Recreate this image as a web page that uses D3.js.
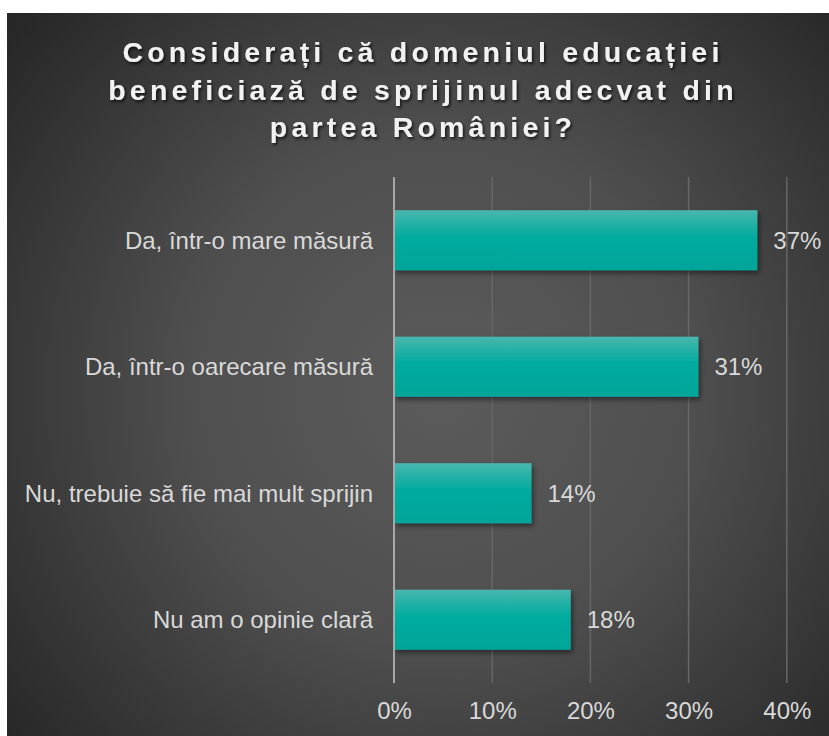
<!DOCTYPE html>
<html>
<head>
<meta charset="utf-8">
<script src="https://cdnjs.cloudflare.com/ajax/libs/d3/7.8.5/d3.min.js"></script>
<style>
  html, body { margin: 0; padding: 0; background: #fff; }
  svg { display: block; }
</style>
</head>
<body>
<div id="chart"></div>
<script>
// data
var categories = [
    "Da, într-o mare măsură",
    "Da, într-o oarecare măsură",
    "Nu, trebuie să fie mai mult sprijin",
    "Nu am o opinie clară"
];
var values = [37, 31, 14, 18];
var xTicks = [0, 10, 20, 30, 40];
var titleLines = [
    "Considerați că domeniul educației",
    "beneficiază de sprijinul adecvat din",
    "partea României?"
];

function init() {
    var svgWidth = 829;
    var svgHeight = 736;

    // plot area
    var margin = { top: 177, right: 42, bottom: 53, left: 394 };
    var chartWidth = svgWidth - margin.left - margin.right;
    var chartHeight = svgHeight - margin.top - margin.bottom;

    var svg = d3.select("#chart")
        .append("svg")
        .attr("width", svgWidth)
        .attr("height", svgHeight);

    var defs = svg.append("defs");

    var bg = defs.append("radialGradient")
        .attr("id", "bgGrad")
        .attr("gradientUnits", "userSpaceOnUse")
        .attr("cx", 440).attr("cy", 390).attr("r", 560);
    bg.append("stop").attr("offset", "0%").attr("stop-color", "#5b5b5b");
    bg.append("stop").attr("offset", "45%").attr("stop-color", "#4f4f4f");
    bg.append("stop").attr("offset", "100%").attr("stop-color", "#272727");

    var barGrad = defs.append("linearGradient")
        .attr("id", "barGrad")
        .attr("x1", 0).attr("y1", 0).attr("x2", 0).attr("y2", 1);
    barGrad.append("stop").attr("offset", "0%").attr("stop-color", "#48b7ae");
    barGrad.append("stop").attr("offset", "45%").attr("stop-color", "#00ab9f");
    barGrad.append("stop").attr("offset", "100%").attr("stop-color", "#00a599");

    var barShadow = defs.append("filter").attr("id", "barShadow")
        .attr("x", "-5%").attr("y", "-10%").attr("width", "115%").attr("height", "140%");
    barShadow.append("feDropShadow")
        .attr("dx", 2).attr("dy", 3).attr("stdDeviation", 2.5)
        .attr("flood-color", "#000").attr("flood-opacity", 0.45);

    var titleShadow = defs.append("filter").attr("id", "titleShadow")
        .attr("x", "-5%").attr("y", "-20%").attr("width", "110%").attr("height", "150%");
    titleShadow.append("feDropShadow")
        .attr("dx", 1.5).attr("dy", 2).attr("stdDeviation", 1.5)
        .attr("flood-color", "#000").attr("flood-opacity", 0.7);

    // background panel
    svg.append("rect")
        .attr("x", 7).attr("y", 13)
        .attr("width", svgWidth - 7).attr("height", svgHeight - 13)
        .attr("fill", "url(#bgGrad)");

    // title
    var title = svg.append("text")
        .attr("text-anchor", "middle")
        .attr("font-family", "'Liberation Sans', Arial, sans-serif")
        .attr("font-weight", "bold")
        .attr("font-size", "28.5px")
        .attr("letter-spacing", "4.2px")
        .attr("fill", "#f2f2f2")
        .attr("filter", "url(#titleShadow)");
    titleLines.forEach(function(line, i) {
        title.append("tspan")
            .attr("x", 423)
            .attr("y", 62 + i * 37.5)
            .text(line);
    });

    var chartGroup = svg.append("g")
        .attr("transform", `translate(${margin.left}, ${margin.top})`);

    var xScale = d3.scaleLinear()
        .domain([0, 40])
        .range([0, 392.8]);

    var yScale = d3.scaleBand()
        .domain(categories)
        .range([0, chartHeight])
        .paddingInner(0.525)
        .paddingOuter(0.2625);

    // gridlines
    chartGroup.selectAll(".grid")
        .data(xTicks.slice(1))
        .enter()
        .append("line")
        .attr("class", "grid")
        .attr("x1", d => xScale(d))
        .attr("x2", d => xScale(d))
        .attr("y1", 0)
        .attr("y2", chartHeight)
        .attr("stroke", "#676767")
        .attr("stroke-width", 1.5);

    // bottom tick labels
    var botAxis = d3.axisBottom(xScale)
        .tickValues(xTicks)
        .tickSize(0)
        .tickPadding(0)
        .tickFormat(d => d + "%");

    var xAxis = chartGroup.append("g")
        .attr("transform", `translate(0, ${chartHeight})`)
        .call(botAxis);
    xAxis.select(".domain").remove();
    xAxis.selectAll("text")
        .attr("dy", null)
        .attr("y", 36)
        .attr("fill", "#d9d9d9")
        .attr("font-family", "'Liberation Sans', Arial, sans-serif")
        .attr("font-size", "24px");

    // bars
    chartGroup.selectAll(".bar")
        .data(values)
        .enter()
        .append("rect")
        .attr("class", "bar")
        .attr("x", xScale(0))
        .attr("y", (d, i) => yScale(categories[i]))
        .attr("width", d => xScale(d) - xScale(0))
        .attr("height", yScale.bandwidth())
        .attr("fill", "url(#barGrad)")
        .attr("filter", "url(#barShadow)");

    // value axis line (0)
    chartGroup.append("line")
        .attr("x1", xScale(0)).attr("x2", xScale(0))
        .attr("y1", 0).attr("y2", chartHeight)
        .attr("stroke", "#a8a8a8")
        .attr("stroke-width", 2);

    // value labels
    chartGroup.selectAll(".val")
        .data(values)
        .enter()
        .append("text")
        .attr("class", "val")
        .attr("x", d => xScale(d) + 16)
        .attr("y", (d, i) => yScale(categories[i]) + yScale.bandwidth() / 2)
        .attr("dy", "0.36em")
        .attr("fill", "#d9d9d9")
        .attr("font-family", "'Liberation Sans', Arial, sans-serif")
        .attr("font-size", "24px")
        .text(d => d + "%");

    // category labels
    var leftAxis = d3.axisLeft(yScale).tickSize(0).tickPadding(21);
    var yAxis = chartGroup.append("g").call(leftAxis);
    yAxis.select(".domain").remove();
    yAxis.selectAll("text")
        .attr("dy", "0.36em")
        .attr("fill", "#d9d9d9")
        .attr("font-family", "'Liberation Sans', Arial, sans-serif")
        .attr("font-size", "24px");
}
window.addEventListener('load', init, false);
</script>
</body>
</html>
